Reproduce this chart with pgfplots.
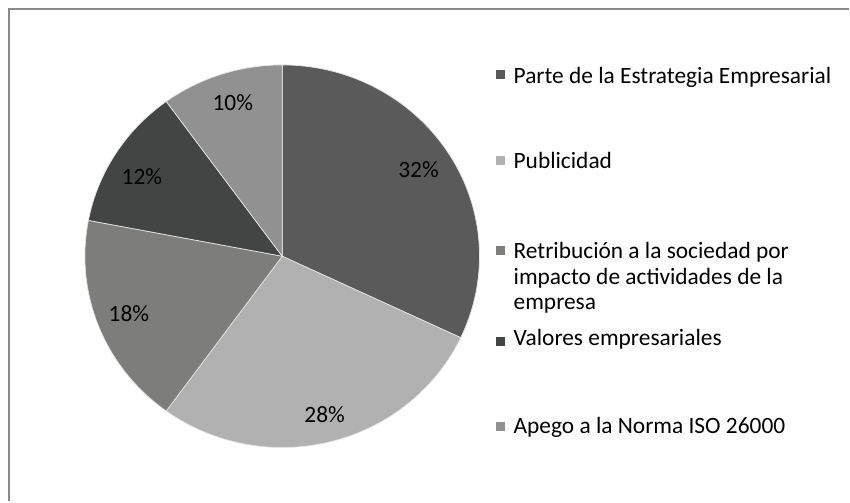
\documentclass[border=0pt]{standalone}
\usepackage{pgfplots}
\usepackage{pgfplotstable}
\pgfplotsset{compat=1.18}
\usepackage{fontspec}
\setmainfont{Carlito}

\definecolor{sl0}{HTML}{5A5A5A}
\definecolor{sl1}{HTML}{B1B1B1}
\definecolor{sl2}{HTML}{7D7D7C}
\definecolor{sl3}{HTML}{434544}
\definecolor{sl4}{HTML}{919191}
\definecolor{frame}{HTML}{8A8A8A}

% shares in percent, clockwise from 12 o'clock
\pgfplotstableread{
share
32
28
18
12
10
}\piedata

\def\startang{90}
\pgfplotsforeachungrouped \i in {0,...,4}{%
  \pgfplotstablegetelem{\i}{share}\of\piedata
  \pgfmathsetmacro\endang{\startang-3.6*\pgfplotsretval}%
  \expandafter\xdef\csname sa\i\endcsname{\startang}%
  \expandafter\xdef\csname ea\i\endcsname{\endang}%
  \global\let\startang\endang
}

\newcommand\lab{\fontsize{23.4}{26}\selectfont}

\begin{document}
\begin{tikzpicture}
\begin{axis}[
  x=1pt, y=1pt,
  xmin=0, xmax=850, ymin=0, ymax=502,
  scale only axis,
  hide axis,
  clip=false
]
  \path (axis cs:0,0) rectangle (axis cs:850,502);
  \draw[frame, line width=1.8pt] (axis cs:9,0) -- (axis cs:9,493) -- (axis cs:850,493);

  \pgfplotsinvokeforeach{0,...,4}{
    \fill[sl#1, draw=white!80!gray, line width=0.7pt]
      (axis cs:282.5,245.5) -- ++(\csname sa#1\endcsname:197.5pt and 191.5pt)
      arc[start angle=\csname sa#1\endcsname, end angle=\csname ea#1\endcsname,
          x radius=197.5pt, y radius=191.5pt] -- cycle;
  }

  % data labels
  \node[anchor=base, inner sep=0, font=\lab] at (axis cs:419,324) {32\%};
  \node[anchor=base, inner sep=0, font=\lab] at (axis cs:325,79) {28\%};
  \node[anchor=base, inner sep=0, font=\lab] at (axis cs:129,180) {18\%};
  \node[anchor=base, inner sep=0, font=\lab] at (axis cs:142,317) {12\%};
  \node[anchor=base, inner sep=0, font=\lab] at (axis cs:233,391) {10\%};

  % legend
  \fill[sl0] (axis cs:497,423.2) rectangle (axis cs:505.5,431.7);
  \fill[sl1] (axis cs:497,337.2) rectangle (axis cs:505.5,345.7);
  \fill[sl2] (axis cs:497,247.2) rectangle (axis cs:505.5,255.7);
  \fill[sl3] (axis cs:497,155.7) rectangle (axis cs:505.5,164.2);
  \fill[sl4] (axis cs:497,71.0) rectangle (axis cs:505.5,79.5);
  \node[anchor=base west, inner sep=0, font=\lab] at (axis cs:514,418.7) {Parte de la Estrategia Empresarial};
  \node[anchor=base west, inner sep=0, font=\lab] at (axis cs:514,333.7) {Publicidad};
  \node[anchor=base west, inner sep=0, font=\lab] at (axis cs:514,243) {Retribución a la sociedad por};
  \node[anchor=base west, inner sep=0, font=\lab] at (axis cs:514,217.5) {impacto de actividades de la};
  \node[anchor=base west, inner sep=0, font=\lab] at (axis cs:514,192) {empresa};
  \node[anchor=base west, inner sep=0, font=\lab] at (axis cs:514,156) {Valores empresariales};
  \node[anchor=base west, inner sep=0, font=\lab] at (axis cs:514,67.7) {Apego a la Norma ISO 26000};
\end{axis}
\end{tikzpicture}
\end{document}
